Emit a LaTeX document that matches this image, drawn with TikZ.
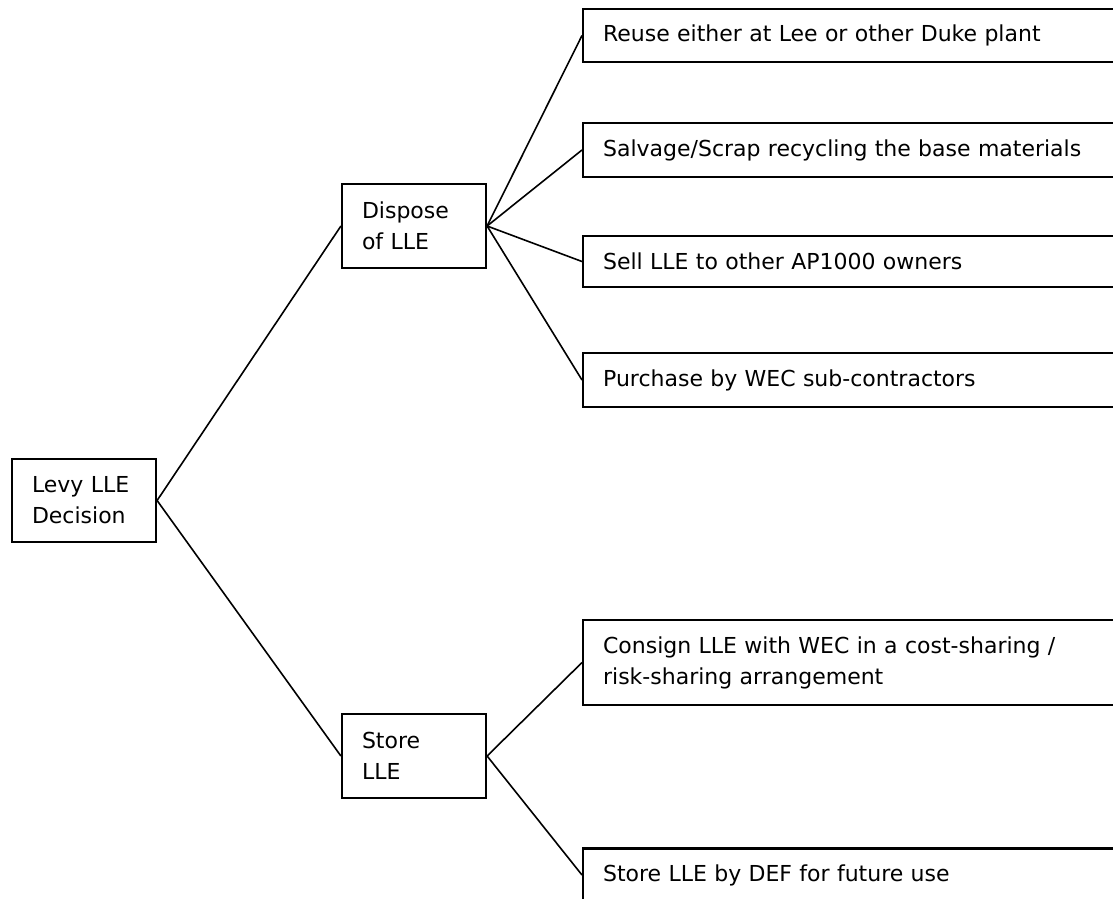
\documentclass[tikz,border=0pt]{standalone}
\usepackage{fontspec}
\setmainfont{DejaVu Sans}
\begin{document}
\begin{tikzpicture}[x=1pt,y=-1pt,
  box/.style={draw, line width=2.2pt, rectangle, inner xsep=20pt, inner ysep=0pt,
    align=left, font=\fontsize{22}{31}\selectfont},
  smallbox/.style={box, text width=104pt, minimum height=84pt},
  bigbox/.style={box, anchor=west, text width=560pt},
  link/.style={line width=1.6pt}]
\useasboundingbox (0,0) rectangle (1113,898);
\clip (0,0) rectangle (1113,898);
\node[smallbox, minimum height=83pt] (levy) at (84,500.5) {Levy LLE\\Decision};
\node[smallbox] (dispose) at (414,226) {Dispose\\of LLE};
\node[smallbox] (store) at (414,756) {Store\\LLE};
\node[bigbox, minimum height=53pt] (reuse) at (582,35.5) {Reuse either at Lee or other Duke plant};
\node[bigbox, minimum height=54pt] (salvage) at (582,150) {Salvage/Scrap recycling the base materials};
\node[bigbox, minimum height=51pt] (sell) at (582,261.5) {Sell LLE to other AP1000 owners};
\node[bigbox, minimum height=54pt] (purchase) at (582,380) {Purchase by WEC sub-contractors};
\node[bigbox, minimum height=85pt] (consign) at (582,662.5) {Consign LLE with WEC in a cost-sharing /\\risk-sharing arrangement};
\node[bigbox, minimum height=53pt] (storedef) at (582,875) {Store LLE by DEF for future use};
\draw[link] (levy.east) -- (dispose.west);
\draw[link] (levy.east) -- (store.west);
\draw[link] (dispose.east) -- (reuse.west);
\draw[link] (dispose.east) -- (salvage.west);
\draw[link] (dispose.east) -- (sell.west);
\draw[link] (dispose.east) -- (purchase.west);
\draw[link] (store.east) -- (consign.west);
\draw[link] (store.east) -- (storedef.west);
\end{tikzpicture}
\end{document}
